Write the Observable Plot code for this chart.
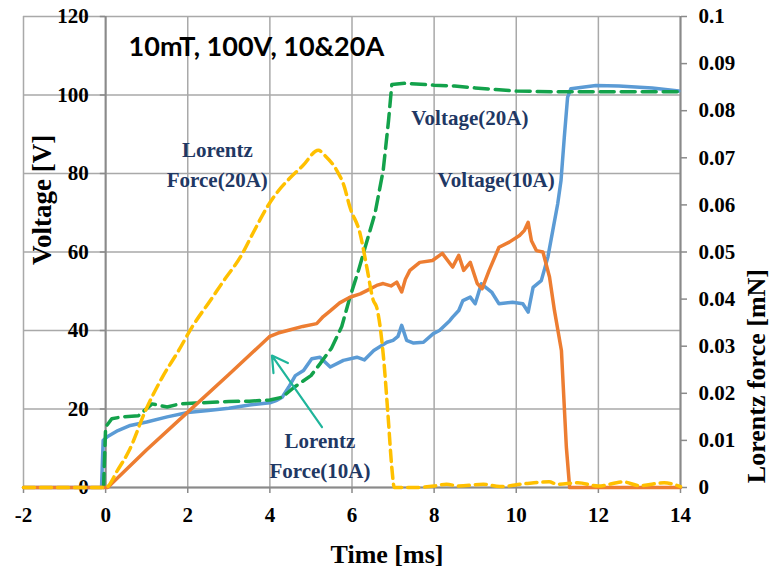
<!DOCTYPE html>
<html>
<head>
<meta charset="utf-8">
<script src="https://cdn.jsdelivr.net/npm/d3@7"></script>
<script src="https://cdn.jsdelivr.net/npm/@observablehq/plot@0.6"></script>
<style>
  html, body { margin: 0; padding: 0; background: #fff; }
</style>
</head>
<body>
<div id="chart"></div>
<script>
// ---- tick labels ----
const xTicks = [-2, 0, 2, 4, 6, 8, 10, 12, 14];
const voltTicks = [0, 20, 40, 60, 80, 100, 120];
const forceTicks = [0, 0.01, 0.02, 0.03, 0.04, 0.05, 0.06, 0.07, 0.08, 0.09, 0.1];
const forceToVolt = 1200; // 0.1 mN on the right axis lines up with 120 V on the left

// ---- series: [time (ms), voltage (V)] ----
const voltage10A = [[-2,0],[-0.1,0],[-0.06,12],[0.05,13],[0.3,14.5],[0.6,15.8],[1,16.7],[1.5,18],[2,19.1],[2.5,19.6],[3,20.2],[3.5,21],[4,21.6],[4.17,22.2],[4.3,23],[4.46,25.6],[4.62,28.5],[4.82,29.8],[5.02,32.8],[5.22,33.2],[5.47,30.7],[5.79,32.4],[6.12,33.2],[6.3,32.5],[6.53,34.9],[6.85,37],[7.0,37.5],[7.12,38.5],[7.21,41.3],[7.33,37.5],[7.5,36.8],[7.74,37],[7.98,39.2],[8.13,40],[8.38,42.5],[8.45,43.4],[8.6,45.1],[8.7,47.6],[8.88,48.5],[9.0,46.8],[9.15,51.9],[9.4,49.8],[9.58,46.8],[9.91,47.2],[10.16,46.8],[10.29,44.7],[10.41,51],[10.61,52.7],[10.77,58.7],[10.89,65.5],[11.01,72.3],[11.09,78.2],[11.17,89.2],[11.25,99.4],[11.33,101.6],[11.94,102.4],[12.5,102.3],[13.31,101.8],[13.96,101]];

const voltage20A = [[-0.05,0],[0,15.4],[0.15,17.5],[0.4,18],[0.8,18.3],[1.13,21.3],[1.5,20.5],[1.8,21.3],[2.2,21.5],[2.6,21.7],[3,21.9],[3.5,22],[4,22.3],[4.3,23],[4.6,25.6],[5.0,28.5],[5.22,31.5],[5.5,35.5],[5.75,41],[5.95,48.5],[6.15,55],[6.32,61.2],[6.56,69.8],[6.76,80.8],[6.89,93.5],[6.97,102.7],[7.3,103],[8,102.5],[8.5,102.3],[9,101.8],[9.5,101.4],[10,101],[11,100.8],[12,100.8],[13,100.8],[14,100.8]];

// ---- series: [time (ms), Lorentz force (mN)] ----
const force10A = [[-2,0],[0.05,0],[1,0.0080],[2,0.0160],[3,0.0240],[4,0.0321],[4.2,0.0328],[4.5,0.0335],[4.8,0.0342],[5.14,0.0348],[5.3,0.0363],[5.47,0.0375],[5.7,0.0392],[5.95,0.0404],[6.2,0.0411],[6.36,0.0418],[6.6,0.0429],[6.76,0.0433],[6.95,0.0428],[7.09,0.0436],[7.21,0.0415],[7.3,0.0442],[7.41,0.0461],[7.65,0.0478],[7.96,0.0482],[8.2,0.0497],[8.45,0.0468],[8.6,0.0493],[8.72,0.0461],[8.88,0.0478],[9.05,0.0433],[9.17,0.0422],[9.34,0.0461],[9.58,0.0510],[9.83,0.0521],[10.08,0.0535],[10.2,0.0546],[10.29,0.0563],[10.37,0.0524],[10.49,0.0503],[10.65,0.0500],[10.81,0.0447],[10.93,0.0376],[11.1,0.0291],[11.22,0.0086],[11.3,0],[14,0]];

const force20A = [[-2,0],[0,0],[0.3,0.0038],[0.57,0.0078],[0.97,0.0163],[1.38,0.0234],[1.78,0.0291],[2.1,0.0340],[2.55,0.0397],[2.9,0.0442],[3.28,0.0489],[3.6,0.0542],[3.93,0.0595],[4.2,0.0629],[4.5,0.0658],[4.8,0.0683],[5.18,0.0716],[5.35,0.0704],[5.63,0.0673],[5.8,0.0642],[5.95,0.0595],[6.2,0.0538],[6.36,0.0468],[6.52,0.0397],[6.6,0.0383],[6.76,0.0283],[6.88,0.0150],[6.97,0.0042],[7.03,0],[7.5,0],[8,0.0003],[8.3,0.0007],[8.6,0.0003],[9.2,0.0007],[9.6,0.0002],[10.2,0.0008],[10.8,0.0012],[11,0.0007],[11.5,0.001],[12,0.0003],[12.6,0.0012],[13,0.0004],[13.6,0.001],[14,0.0002]];

const serif = "'Liberation Serif', 'Times New Roman', serif";
const navy = "#1f3864";
const gridColor = "#a9a9a9";
const axisColor = "#8a8a8a";

const chart = Plot.plot({
  width: 771,
  height: 579,
  marginLeft: 23,
  marginRight: 91,
  marginTop: 16,
  marginBottom: 92,
  x: {domain: [-2, 14]},
  y: {domain: [0, 120]},
  style: {fontFamily: serif, fontWeight: "bold", fontSize: "21px", color: "#000", background: "#fff", overflow: "visible"},
  marks: [
    Plot.gridX(xTicks, {stroke: gridColor, strokeOpacity: 1, strokeWidth: 1.5}),
    Plot.gridY(voltTicks, {stroke: gridColor, strokeOpacity: 1, strokeWidth: 1.5}),
    // left axis (crosses at x = 0)
    Plot.ruleX([0], {y1: 0, y2: 120, stroke: axisColor, strokeWidth: 2}),
    Plot.ruleY(voltTicks, {x1: -0.13, x2: 0, stroke: axisColor, strokeWidth: 1.5}),
    Plot.text(voltTicks, {x: 0, y: d => d, text: d => String(d), textAnchor: "end", dx: -17, fill: "#000"}),
    // right axis
    Plot.ruleX([14], {y1: 0, y2: 120, stroke: axisColor, strokeWidth: 2}),
    Plot.axisY(forceTicks.map(f => f * forceToVolt), {
      anchor: "right", tickSize: 6, tickPadding: 12, stroke: axisColor, strokeWidth: 1.5,
      tickFormat: v => String(+(v / forceToVolt).toFixed(2)), label: null, fill: "#000"
    }),
    // bottom axis
    Plot.ruleY([0], {stroke: axisColor, strokeWidth: 2}),
    Plot.axisX(xTicks, {tickSize: 6, tickPadding: 14, stroke: axisColor, strokeWidth: 1.5, tickFormat: d => String(d), label: null, fill: "#000"}),

    // series
    Plot.line(voltage10A, {x: d => d[0], y: d => d[1], stroke: "#5b9bd5", strokeWidth: 3.5, strokeLinejoin: "round"}),
    Plot.line(voltage20A, {x: d => d[0], y: d => d[1], stroke: "#13a24b", strokeWidth: 3.5, strokeDasharray: "14,7"}),
    Plot.line(force10A, {x: d => d[0], y: d => d[1] * forceToVolt, stroke: "#ed7d31", strokeWidth: 3.5, strokeLinejoin: "round"}),
    Plot.line(force20A, {x: d => d[0], y: d => d[1] * forceToVolt, stroke: "#ffc000", strokeWidth: 3.5, strokeDasharray: "11,6", curve: "monotone-x"}),

    // annotations
    Plot.text(["10mT, 100V, 10&20A"], {x: 0.56, y: 112.1, text: d => d, textAnchor: "start", fontFamily: "Lato, 'Open Sans', sans-serif", fontWeight: "bold", fontSize: 27, fill: "#000"}),
    Plot.text(["Lorentz\nForce(20A)"], {x: 2.72, y: 82.8, text: d => d, fontSize: 21, lineHeight: 1.43, fill: navy}),
    Plot.text(["Voltage(20A)"], {x: 8.87, y: 94.0, text: d => d, fontSize: 21, fill: navy}),
    Plot.text(["Voltage(10A)"], {x: 9.51, y: 78.2, text: d => d, fontSize: 21, fill: navy}),
    Plot.text(["Lorentz\nForce(10A)"], {x: 5.22, y: 8.7, text: d => d, fontSize: 21, lineHeight: 1.43, fill: navy}),
    Plot.arrow([0], {x1: 5.27, y1: 15.4, x2: 4.05, y2: 33.6, stroke: "#1fb59b", strokeWidth: 2.2, headLength: 12}),

    // axis titles
    Plot.text(["Voltage [V]"], {frameAnchor: "left", rotate: -90, dx: 19, dy: 13, text: d => d, fontSize: 27, fill: "#000"}),
    Plot.text(["Lorentz force [mN]"], {frameAnchor: "right", rotate: -90, dx: 76, dy: 17, text: d => d, fontSize: 26, fill: "#000"}),
    Plot.text(["Time [ms]"], {frameAnchor: "bottom", dx: 35, dy: 75, text: d => d, fontSize: 26, fill: "#000"})
  ]
});
document.getElementById("chart").appendChild(chart);
</script>
</body>
</html>
